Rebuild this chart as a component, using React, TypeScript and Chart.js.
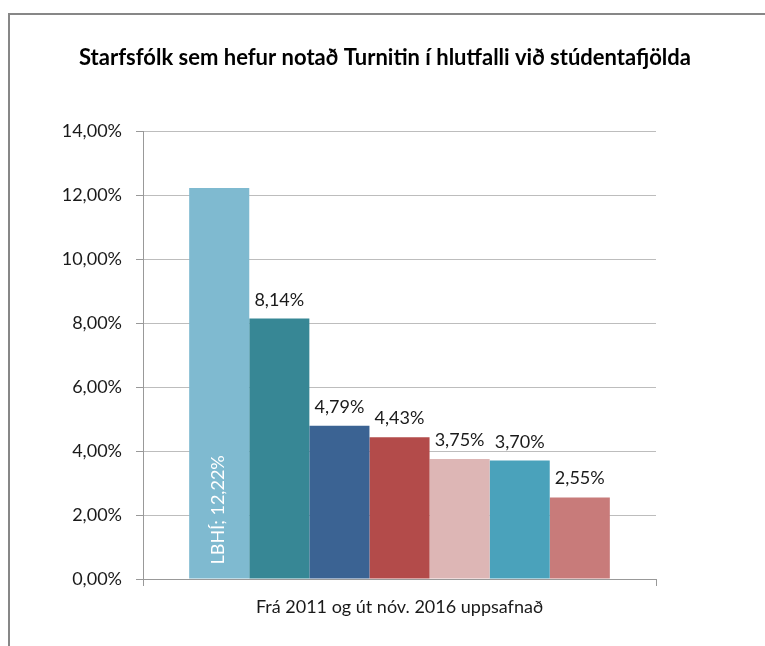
import React, { useEffect, useRef } from "react";
import { Chart, registerables } from "chart.js";

Chart.register(...registerables);

const chartTitle = "Starfsfólk sem hefur notað Turnitin í hlutfalli við stúdentafjölda";
const categories = ["Frá 2011 og út nóv. 2016 uppsafnað"];
const seriesNames = ["LBHÍ", "HA", "HR", "HÍ", "Bifröst", "LHÍ", "Hólar"];
const seriesValues = [12.22, 8.14, 4.79, 4.43, 3.75, 3.7, 2.55];
const seriesColors = ["#7FBAD0", "#378795", "#3B6393", "#B34B4A", "#DDB6B5", "#4AA2BB", "#C87B7A"];
const yMin = 0;
const yMax = 14;
const yStep = 2;

const FONT = "Lato, 'Open Sans', sans-serif";

const fmt = (v: number) => v.toFixed(2).replace(".", ",") + "%";

const decorPlugin = {
  id: "decor",
  beforeDraw(chart: any) {
    const ctx = chart.ctx;
    ctx.save();
    ctx.fillStyle = "#ffffff";
    ctx.fillRect(0, 0, chart.width, chart.height);
    ctx.strokeStyle = "#878787";
    ctx.lineWidth = 2;
    ctx.beginPath();
    ctx.moveTo(9, chart.height);
    ctx.lineTo(9, 14);
    ctx.lineTo(chart.width, 14);
    ctx.stroke();
    ctx.fillStyle = "#000000";
    ctx.font = `bold 22px ${FONT}`;
    ctx.textAlign = "center";
    ctx.textBaseline = "middle";
    ctx.fillText(chartTitle, 385, 58);
    ctx.restore();
  },
  afterDatasetsDraw(chart: any) {
    const ctx = chart.ctx;
    ctx.save();
    ctx.font = `18px ${FONT}`;
    chart.data.datasets.forEach((ds: any, i: number) => {
      const meta = chart.getDatasetMeta(i);
      meta.data.forEach((bar: any, j: number) => {
        const v = ds.data[j];
        if (i === 0) {
          ctx.save();
          ctx.translate(bar.x - 1, bar.base - 14);
          ctx.rotate(-Math.PI / 2);
          ctx.fillStyle = "#ffffff";
          ctx.textAlign = "left";
          ctx.textBaseline = "middle";
          ctx.fillText(`${ds.label}; ${fmt(v)}`, 0, 0);
          ctx.restore();
        } else {
          ctx.fillStyle = "#1a1a1a";
          ctx.textAlign = "center";
          ctx.textBaseline = "alphabetic";
          ctx.fillText(fmt(v), bar.x, bar.y - 13);
        }
      });
    });
    ctx.restore();
  },
};

export default function App() {
  const ref = useRef<HTMLCanvasElement | null>(null);
  useEffect(() => {
    if (!ref.current) return;
    const chart = new Chart(ref.current, {
      type: "bar",
      data: {
        labels: categories,
        datasets: seriesNames.map((name, i) => ({
          label: name,
          data: [seriesValues[i]],
          backgroundColor: seriesColors[i],
          borderWidth: 0,
        })),
      },
      options: {
        animation: false,
        responsive: false,
        devicePixelRatio: 1,
        layout: { padding: { left: 0, right: 109, top: 131, bottom: 0 } },
        datasets: { bar: { barPercentage: 1, categoryPercentage: 0.82 } },
        plugins: {
          legend: { display: false },
          title: { display: false },
          tooltip: { enabled: false },
        },
        scales: {
          x: {
            grid: {
              display: true,
              drawOnChartArea: false,
              drawTicks: true,
              tickLength: 7,
              color: "#999999",
            },
            border: { display: true, color: "#999999", width: 1 },
            ticks: { color: "#1a1a1a", font: { family: FONT, size: 18 }, padding: 10 },
            afterFit(scale: any) {
              scale.height = 67;
            },
          },
          y: {
            min: yMin,
            max: yMax,
            grid: { color: "#BDBDBD", tickLength: 7, drawTicks: true, tickColor: "#999999" },
            border: { display: true, color: "#999999", width: 1 },
            ticks: {
              stepSize: yStep,
              color: "#1a1a1a",
              padding: 14,
              font: { family: FONT, size: 18 },
              callback: (v: any) => fmt(Number(v)),
            },
            afterFit(scale: any) {
              scale.width = 143;
            },
          },
        },
      },
      plugins: [decorPlugin],
    });
    return () => chart.destroy();
  }, []);
  return (
    <div style={{ position: "fixed", left: 0, top: 0, width: 765, height: 646 }}>
      <canvas ref={ref} width={765} height={646} style={{ width: 765, height: 646, display: "block" }} />
    </div>
  );
}
